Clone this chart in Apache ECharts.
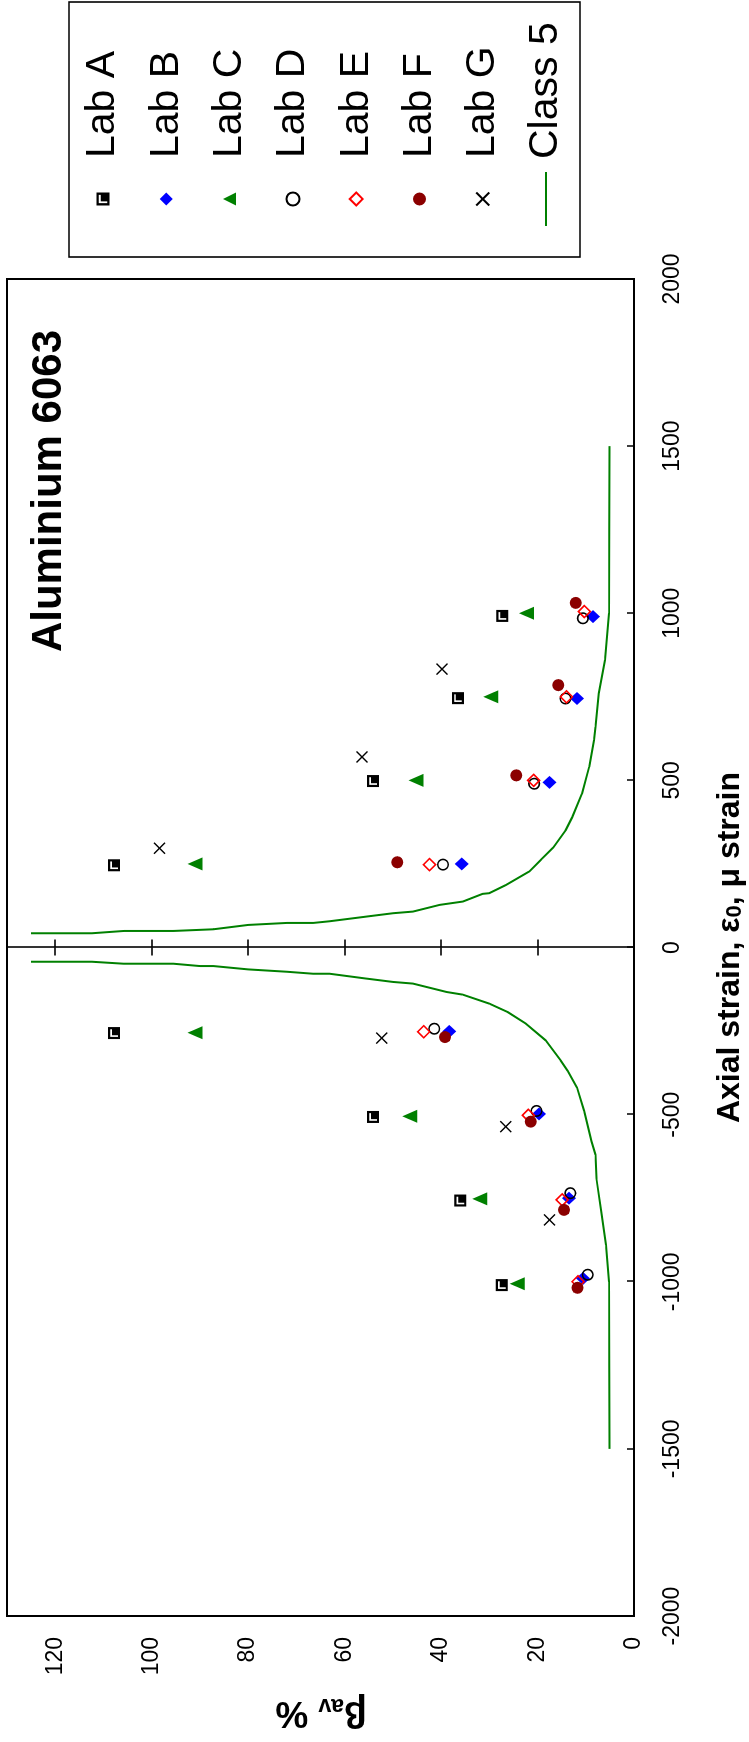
<!DOCTYPE html>
<html>
<head>
<meta charset="utf-8">
<script src="https://cdn.jsdelivr.net/npm/echarts@6.0.0/dist/echarts.min.js"></script>
<style>
  html, body { margin: 0; padding: 0; background: #fff; }
  #page { position: relative; width: 749px; height: 1742px; overflow: hidden; background: #fff; }
  /* the figure is laid out landscape and turned a quarter turn anticlockwise */
  #chart { position: absolute; left: 0; top: 0; width: 1742px; height: 749px;
           transform-origin: 0 0; transform: translate(0, 1742px) rotate(-90deg); }
</style>
</head>
<body>
<div id="page"><div id="chart"></div></div>
<script>
// beta_av (%) reported by each lab, as [axial strain (micro-strain), beta_av %]
const labA = [[-1010, 27.4], [-757, 36.0], [-507, 54.1], [-256, 107.8], [246, 107.8], [498, 54.1], [746, 36.5], [992, 27.3]];
const labB = [[-990, 10.6], [-750, 13.5], [-498, 19.7], [-251, 38.3], [250, 35.7], [494, 17.5], [745, 11.8], [990, 8.5]];
const labC = [[-1006, 24.2], [-752, 32.0], [-505, 46.5], [-255, 91.0], [250, 91.0], [500, 45.2], [750, 29.7], [1000, 22.3]];
const labD = [[-979, 9.6], [-735, 13.2], [-489, 20.2], [-243, 41.4], [248, 39.6], [490, 20.7], [745, 14.2], [985, 10.6]];
const labE = [[-1000, 11.6], [-755, 14.9], [-502, 21.9], [-252, 43.6], [248, 42.4], [500, 20.8], [750, 14.0], [1005, 10.3]];
const labF = [[-1018, 11.7], [-785, 14.5], [-521, 21.4], [-268, 39.2], [255, 49.1], [515, 24.4], [785, 15.7], [1031, 12.1]];
const labG = [[-815, 17.5], [-536, 26.6], [-271, 52.3], [297, 98.4], [570, 56.4], [833, 39.8]];

// Class 5 limit curve, compressive and tensile branches
const class5Neg = [[-1500, 5.1], [-1000, 5.2], [-890, 5.8], [-790, 6.8], [-690, 7.8], [-620, 8.0], [-580, 8.8],
  [-490, 10.3], [-420, 11.8], [-370, 13.7], [-338, 15.2], [-278, 18.3], [-228, 22.4], [-193, 26.2], [-168, 30.0],
  [-141, 35.5], [-133, 38.9], [-108, 45.8], [-103, 50.0], [-93, 55.5], [-78.5, 63.1], [-78.5, 66.5], [-72.5, 72.0],
  [-65.5, 80.0], [-55.5, 87.2], [-55.5, 90.0], [-48.5, 95.5], [-48.5, 105.8], [-42.6, 112.4], [-42.6, 125.0]];
const class5Pos = [[42.6, 125.0], [42.6, 112.4], [49.5, 105.8], [49.5, 95.5], [54.5, 87.2], [67.5, 80.0], [73.5, 72.0],
  [73.5, 66.5], [78.5, 63.1], [92.5, 55.5], [102.5, 50.0], [107.5, 45.8], [127.5, 40.3], [137.5, 35.5], [160.5, 31.4],
  [162.5, 30.0], [187.5, 26.5], [227.5, 21.7], [262.5, 19.3], [300, 16.7], [350, 14.2], [390, 12.8], [460, 10.8],
  [540, 9.3], [620, 8.3], [660, 8.0], [760, 7.3], [860, 6.0], [1000, 5.2], [1500, 5.1]];

const labNames = ['Lab A', 'Lab B', 'Lab C', 'Lab D', 'Lab E', 'Lab F', 'Lab G'];
const curveName = 'Class 5';

// axis scales: [min, max, step]
const strainScale = [-2000, 2000, 500];
const betaScale = [0, 130, 20];

const FONT = "'Liberation Sans', Arial, Helvetica, sans-serif";

// filled square with a light corner stroke, as the lab A marker
const squareMark = 'path://M0,0 L11,0 L11,11 L0,11 Z M2,2 L2,9 L3.5,9 L3.5,3.5 L9,3.5 L9,2 Z';
const crossMark = 'path://M0,0 L10,10 M10,0 L0,10';
const lineKey = 'path://M0,0 L54,0 L54,2 L0,2 Z';

const labStyles = [
  { data: labA, symbol: squareMark, size: 12, itemStyle: { color: '#000' } },
  { data: labB, symbol: 'diamond', size: [13, 14], itemStyle: { color: '#0000ff' } },
  { data: labC, symbol: 'triangle', size: [13, 15], itemStyle: { color: '#008000' } },
  { data: labD, symbol: 'circle', size: 10.5, itemStyle: { color: 'rgba(255,255,255,0)', borderColor: '#000', borderWidth: 1.6 } },
  { data: labE, symbol: 'diamond', size: 12, itemStyle: { color: 'rgba(255,255,255,0)', borderColor: '#ff0000', borderWidth: 1.6 } },
  { data: labF, symbol: 'circle', size: 12, itemStyle: { color: '#8b0000' } },
  { data: labG, symbol: crossMark, size: 11, itemStyle: { color: 'rgba(255,255,255,0)', borderColor: '#000', borderWidth: 1.4 } }
];

const curveStyle = { color: '#008000', width: 2 };

const series = [];
[class5Neg, class5Pos].forEach(function (branch) {
  series.push({
    name: curveName, type: 'line', data: branch,
    symbol: 'none', showSymbol: false, smooth: false,
    lineStyle: curveStyle, itemStyle: { color: curveStyle.color },
    xAxisIndex: 0, yAxisIndex: 0, z: 3
  });
});
labStyles.forEach(function (s, i) {
  series.push({
    name: labNames[i], type: 'scatter', data: s.data,
    symbol: s.symbol, symbolSize: s.size,
    itemStyle: Object.assign({ opacity: 1 }, s.itemStyle),
    emphasis: { disabled: true },
    xAxisIndex: 0, yAxisIndex: 0, z: 4 + i
  });
});

const betaAxisBase = {
  type: 'value', min: betaScale[0], max: betaScale[1], interval: betaScale[2],
  position: 'left', splitLine: { show: false }
};

const plainNumber = function (v) { return String(v); };

const chart = echarts.init(document.getElementById('chart'), null, { renderer: 'canvas', devicePixelRatio: 1 });

chart.setOption({
  animation: false,
  backgroundColor: '#fff',
  textStyle: { fontFamily: FONT, color: '#000' },
  grid: {
    left: 126, right: 279, top: 7, bottom: 115,
    show: true, borderColor: '#000', borderWidth: 2, backgroundColor: 'transparent',
    containLabel: false
  },
  xAxis: [{
    type: 'value', min: strainScale[0], max: strainScale[1], interval: strainScale[2],
    position: 'bottom',
    axisLine: { show: false, onZero: false },
    axisTick: { show: true, inside: true, length: 7, lineStyle: { color: '#000', width: 1.5 } },
    axisLabel: { show: true, fontSize: 23, margin: 27, color: '#000', fontFamily: FONT, formatter: plainNumber },
    splitLine: { show: false }
  }],
  yAxis: [
    Object.assign({}, betaAxisBase, {
      axisLine: { show: false, onZero: false },
      axisTick: { show: false },
      axisLabel: { show: true, fontSize: 23, margin: 21, color: '#000', fontFamily: FONT, showMaxLabel: false, formatter: plainNumber }
    }),
    Object.assign({}, betaAxisBase, {
      axisLine: { show: true, onZero: true, onZeroAxisIndex: 0, lineStyle: { color: '#000', width: 1.6 } },
      axisTick: { show: true, inside: false, length: 8, lineStyle: { color: '#000', width: 1.6 } },
      axisLabel: { show: false }
    }),
    Object.assign({}, betaAxisBase, {
      axisLine: { show: false, onZero: true, onZeroAxisIndex: 0 },
      axisTick: { show: true, inside: true, length: 8, lineStyle: { color: '#000', width: 1.6 } },
      axisLabel: { show: false }
    })
  ],
  legend: [{
    data: labNames,
    orient: 'vertical', left: 1535.5, top: 82.5, padding: 0,
    itemGap: 22.3, itemWidth: 13, itemHeight: 13, symbolKeepAspect: true,
    selectedMode: false,
    textStyle: { fontSize: 41, lineHeight: 41, color: '#000', fontFamily: FONT, padding: [0, 0, 0, 29.5] }
  }, {
    data: [{ name: curveName, icon: lineKey }],
    orient: 'vertical', left: 1516, top: 525.5, padding: 0,
    itemWidth: 54, itemHeight: 13, symbolKeepAspect: true,
    selectedMode: false,
    textStyle: { fontSize: 41, lineHeight: 41, color: '#000', fontFamily: FONT, padding: [0, 0, 0, 8] }
  }],
  graphic: [
    { // legend frame
      type: 'rect', silent: true, z: 0,
      shape: { x: 1485, y: 69, width: 255, height: 511 },
      style: { fill: 'none', stroke: '#000', lineWidth: 1.6 }
    },
    { // panel title
      type: 'text', silent: true, z: 10,
      x: 1412, y: 49,
      style: { text: 'Aluminium 6063', fontSize: 42, fontWeight: 'bold', fontFamily: FONT,
               fill: '#000', align: 'right', verticalAlign: 'middle' }
    },
    { // strain axis title
      type: 'text', silent: true, z: 10,
      x: 794.5, y: 730,
      style: {
        text: '{t|Axial strain, \u03b5}{s|0}{t|, \u03bc strain}',
        align: 'center', verticalAlign: 'middle', fill: '#000',
        rich: {
          t: { fontSize: 32, fontWeight: 'bold', fontFamily: FONT, lineHeight: 32, fill: '#000' },
          s: { fontSize: 22, fontWeight: 'bold', fontFamily: FONT, lineHeight: 22, verticalAlign: 'bottom', fill: '#000' }
        }
      }
    },
    { // beta axis title
      type: 'text', silent: true, z: 10,
      x: 30, y: 321, rotation: Math.PI / 2,
      style: {
        text: '{b|\u03b2}{s|av}{b| %}',
        align: 'center', verticalAlign: 'middle', fill: '#000',
        rich: {
          b: { fontSize: 37, fontWeight: 'bold', fontFamily: FONT, lineHeight: 37, fill: '#000' },
          s: { fontSize: 23, fontWeight: 'bold', fontFamily: FONT, lineHeight: 23, verticalAlign: 'bottom', fill: '#000' }
        }
      }
    }
  ],
  series: series
});
</script>
</body>
</html>
